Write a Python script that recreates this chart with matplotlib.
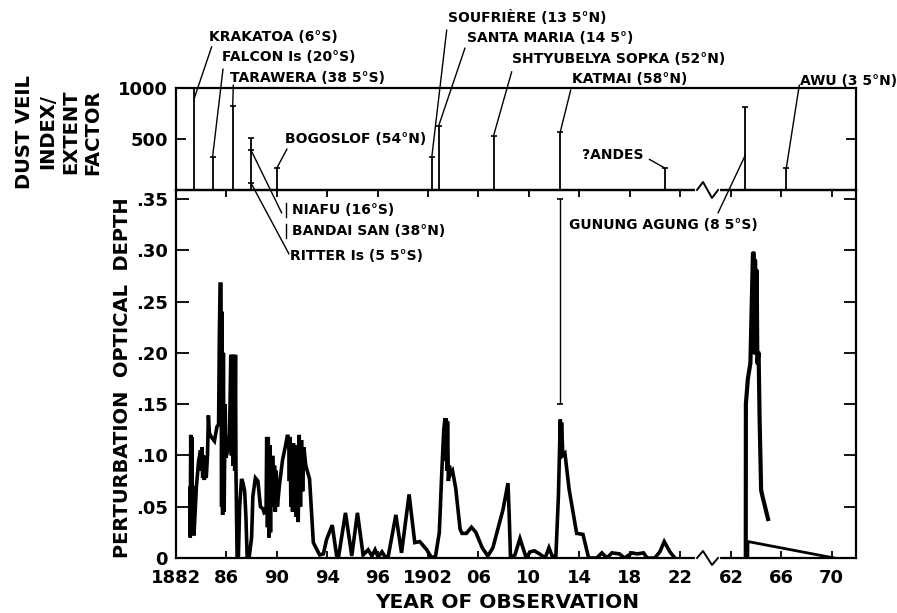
import numpy as np
import matplotlib
matplotlib.use("Agg")
import matplotlib.pyplot as plt
from matplotlib.lines import Line2D

# ---- data ----
# upper panel: dust veil index / extent factor of each eruption
volc_names = ["KRAKATOA (6°S)", "FALCON Is (20°S)", "TARAWERA (38 5°S)",
              "NIAFU / BANDAI SAN / RITTER", "BOGOSLOF (54°N)",
              "SOUFRIÈRE (13 5°N)", "SANTA MARIA (14 5°)",
              "SHTYUBELYA SOPKA (52°N)", "KATMAI (58°N)", "?ANDES",
              "GUNUNG AGUNG (8 5°S)", "AWU (3 5°N)"]
volc_year = [1883.45, 1884.9, 1886.5, 1887.95, 1890.0, 1902.3, 1902.85,
             1907.2, 1912.5, 1920.8, 1963.15, 1966.4]
volc_dvi = [1000, 320, 820, 510, 215, 320, 630, 530, 570, 215, 810, 215]
# extra marks on the shared Niafu/Bandai/Ritter stem
multi_year = [1887.95, 1887.95]
multi_dvi = [392, 69]

# lower panel: perturbation optical depth, 1883-1921
tau_year = [
    1883.10, 1883.13, 1883.17, 1883.21, 1883.25, 1883.30, 1883.36, 1883.42,
    1883.50, 1883.62, 1883.80, 1883.95, 1884.00, 1884.05, 1884.12, 1884.18,
    1884.25, 1884.32, 1884.40, 1884.50, 1884.57, 1884.65, 1884.80, 1885.05,
    1885.25, 1885.38, 1885.44, 1885.50, 1885.57, 1885.62, 1885.66, 1885.70,
    1885.76, 1885.82, 1885.90, 1885.97, 1886.10, 1886.25, 1886.35, 1886.40,
    1886.45, 1886.52, 1886.58, 1886.66, 1886.72, 1886.76, 1886.85, 1886.95,
    1887.05, 1887.20, 1887.30, 1887.45, 1887.55, 1887.65, 1887.80, 1888.00,
    1888.10, 1888.30, 1888.50, 1888.70, 1888.90, 1889.00, 1889.15, 1889.20,
    1889.26, 1889.32, 1889.38, 1889.44, 1889.50, 1889.56, 1889.70, 1889.75,
    1889.82, 1889.88, 1889.95, 1890.05, 1890.20, 1890.45, 1890.70, 1890.85,
    1890.95, 1891.00, 1891.05, 1891.12, 1891.18, 1891.25, 1891.32, 1891.40,
    1891.48, 1891.55, 1891.62, 1891.70, 1891.78, 1891.88, 1891.96, 1892.05,
    1892.15, 1892.30, 1892.60, 1892.90, 1893.40, 1893.70, 1893.95, 1894.40,
    1894.75, 1894.90, 1895.45, 1895.95, 1896.40, 1896.85, 1897.25, 1897.55,
    1897.80, 1898.05, 1898.35, 1898.60, 1898.85, 1899.45, 1899.90, 1900.50,
    1900.95, 1901.35, 1901.90, 1902.30, 1902.60, 1902.90, 1903.10, 1903.25,
    1903.35, 1903.40, 1903.45, 1903.50, 1903.55, 1903.62, 1903.70, 1903.80,
    1903.95, 1904.20, 1904.55, 1904.70, 1905.05, 1905.45, 1905.80, 1906.30,
    1906.75, 1907.15, 1907.95, 1908.35, 1908.45, 1908.55, 1908.90, 1909.30,
    1909.80, 1910.10, 1910.45, 1910.85, 1911.30, 1911.60, 1911.85, 1912.15,
    1912.35, 1912.50, 1912.55, 1912.60, 1912.70, 1912.87, 1913.20, 1913.80,
    1914.30, 1914.75, 1915.40, 1915.80, 1916.20, 1916.60, 1917.20, 1917.60,
    1918.20, 1918.60, 1919.10, 1919.40, 1920.00, 1920.40, 1920.75, 1921.20,
    1921.60]
tau_val = [
    0.068, 0.020, 0.120, 0.030, 0.118, 0.025, 0.070, 0.022,
    0.040, 0.070, 0.095, 0.105, 0.085, 0.108, 0.078, 0.100,
    0.076, 0.098, 0.078, 0.100, 0.139, 0.122, 0.118, 0.114,
    0.128, 0.130, 0.215, 0.267, 0.267, 0.050, 0.240, 0.042,
    0.200, 0.045, 0.150, 0.098, 0.105, 0.120, 0.198, 0.100,
    0.198, 0.090, 0.198, 0.085, 0.198, 0.085, 0.000, 0.000,
    0.050, 0.077, 0.074, 0.065, 0.040, 0.000, 0.000, 0.020,
    0.060, 0.078, 0.075, 0.050, 0.048, 0.044, 0.045, 0.118,
    0.030, 0.118, 0.020, 0.110, 0.025, 0.098, 0.098, 0.050,
    0.090, 0.045, 0.085, 0.050, 0.070, 0.095, 0.110, 0.120,
    0.115, 0.075, 0.118, 0.050, 0.112, 0.045, 0.112, 0.048,
    0.110, 0.040, 0.108, 0.035, 0.120, 0.050, 0.115, 0.065,
    0.108, 0.090, 0.077, 0.015, 0.003, 0.004, 0.018, 0.032,
    0.002, 0.001, 0.044, 0.002, 0.044, 0.003, 0.008, 0.002,
    0.008, 0.001, 0.006, 0.001, 0.002, 0.042, 0.005, 0.062,
    0.015, 0.016, 0.008, 0.000, 0.002, 0.025, 0.085, 0.125,
    0.136, 0.095, 0.136, 0.085, 0.133, 0.075, 0.090, 0.082,
    0.085, 0.068, 0.028, 0.024, 0.024, 0.030, 0.025, 0.010,
    0.002, 0.010, 0.047, 0.073, 0.040, 0.000, 0.003, 0.019,
    0.000, 0.006, 0.007, 0.004, 0.000, 0.010, 0.002, 0.002,
    0.060, 0.135, 0.105, 0.132, 0.100, 0.102, 0.067, 0.024,
    0.023, 0.000, 0.000, 0.005, 0.000, 0.005, 0.004, 0.000,
    0.005, 0.004, 0.005, 0.000, 0.000, 0.006, 0.016, 0.006,
    0.000]

# after Agung
agung_year = [1963.18, 1963.19, 1963.35, 1963.55, 1963.65, 1963.75, 1963.82,
              1963.87, 1963.92, 1963.97, 1964.05, 1964.10, 1964.20, 1964.28,
              1964.40, 1964.55, 1964.95]
agung_val = [0.000, 0.150, 0.175, 0.190, 0.245, 0.297, 0.297,
             0.200, 0.290, 0.230, 0.280, 0.190, 0.200, 0.135,
             0.066, 0.058, 0.038]
bg_year = [1963.35, 1963.36, 1970.20]
bg_val = [0.000, 0.016, 0.000]

# Katmai range bar in the lower panel
katmai_bar_year = 1912.5
katmai_bar_lo, katmai_bar_hi = 0.15, 0.35

xtick_year = [1882, 1886, 1890, 1894, 1898, 1902, 1906, 1910, 1914, 1918,
              1922, 1962, 1966, 1970]
xtick_lab = ["1882", "86", "90", "94", "96", "1902", "06", "10", "14", "18",
             "22", "62", "66", "70"]
ytick_tau = [0, .05, .10, .15, .20, .25, .30, .35]
ytick_tau_lab = ["0", ".05", ".10", ".15", ".20", ".25", ".30", ".35"]

# ---- broken time axis: 1924-1960 squeezed out ----
G0, G1, GW = 1924.0, 1960.0, 0.04


def fwd(x):
    x = np.asarray(x, dtype=float)
    return np.where(x <= G0, x,
                    np.where(x >= G1, x - (G1 - G0) + GW,
                             G0 + (x - G0) * GW / (G1 - G0)))


def inv(y):
    y = np.asarray(y, dtype=float)
    return np.where(y <= G0, y,
                    np.where(y >= G0 + GW, y + (G1 - G0) - GW,
                             G0 + (y - G0) * (G1 - G0) / GW))


W, H = 897, 613
fig = plt.figure(figsize=(W / 100, H / 100), dpi=100)
FS = 10
TFS = 13
plt.rcParams["font.weight"] = "bold"


def px(x, y):
    return (x / W, 1 - y / H)


L, R, T, M, B = 176, 856, 88, 190, 558
ax = fig.add_axes([L / W, 1 - B / H, (R - L) / W, (B - M) / H])
ax_top = fig.add_axes([L / W, 1 - M / H, (R - L) / W, (M - T) / H])
ax.set_zorder(1)
ax_top.set_zorder(2)
ax_top.patch.set_visible(False)

for a in (ax, ax_top):
    a.set_xscale("function", functions=(fwd, inv))
    a.set_xlim(1882, 1971.93)
    for s in a.spines.values():
        s.set_linewidth(1.6)

# upper panel
ax_top.set_ylim(0, 1000)
ax_top.vlines(volc_year, 0, volc_dvi, colors="black", lw=1.3)
ax_top.plot(volc_year, volc_dvi, "_", color="black", ms=5, mew=1.2)
ax_top.plot(multi_year, multi_dvi, "_", color="black", ms=5, mew=1.2)
ax_top.set_xticks([])
ax_top.set_yticks([0, 500, 1000])
ax_top.set_yticklabels(["", "500", "1000"], fontsize=TFS, fontweight="bold")
ax_top.tick_params(axis="y", direction="in", length=7, width=1.3,
                   right=True, pad=6)

# lower panel
ax.set_ylim(0, (B - M) / 1026)
ax.plot(tau_year, tau_val, color="black", lw=2.6, solid_joinstyle="miter")
ax.plot(agung_year, agung_val, color="black", lw=3.0)
ax.plot(bg_year, bg_val, color="black", lw=2.0)
ax.vlines(katmai_bar_year, katmai_bar_lo, katmai_bar_hi, colors="black", lw=1.0)
ax.plot([katmai_bar_year] * 2, [katmai_bar_lo, katmai_bar_hi], "_",
        color="black", ms=5, mew=1.2)
ax.set_xticks(xtick_year)
ax.set_xticklabels(xtick_lab, fontsize=TFS, fontweight="bold")
ax.set_yticks(ytick_tau)
ax.set_yticklabels(ytick_tau_lab, fontsize=TFS, fontweight="bold")
ax.tick_params(axis="x", direction="in", length=5, width=1.3, top=True, pad=8)
ax.tick_params(axis="y", direction="in", length=9, width=1.3, right=True, pad=6)
ax.xaxis.set_minor_locator(plt.NullLocator())

# axis titles
fig.text(*px(59, 132), "DUST VEIL\nINDEX/\nEXTENT\nFACTOR", rotation=90,
         ha="center", va="center", multialignment="center",
         fontsize=14, fontweight="bold", linespacing=1.25)
fig.text(*px(123, 378), "PERTURBATION  OPTICAL  DEPTH", rotation=90,
         ha="center", va="center", fontsize=14, fontweight="bold")
fig.text(*px(507, 603), "YEAR OF OBSERVATION", ha="center", va="center",
         fontsize=14.5, fontweight="bold")

# eruption labels with leader lines: (label, text x,y px, line start px, stem point)
labels = [
    ("KRAKATOA (6°S)", 209, 37, (211.7, 46.7), (volc_year[0], 900)),
    ("FALCON Is (20°S)", 222, 57, (223, 69), (volc_year[1], volc_dvi[1])),
    ("TARAWERA (38 5°S)", 230, 78, (233.3, 85), (volc_year[2], volc_dvi[2])),
    ("BOGOSLOF (54°N)", 285, 139, (287, 149), (volc_year[4], volc_dvi[4])),
    ("SOUFRIÈRE (13 5°N)", 448, 18, (446.7, 30), (volc_year[5], volc_dvi[5])),
    ("SANTA MARIA (14 5°)", 467, 38, (465, 48), (volc_year[6], volc_dvi[6])),
    ("SHTYUBELYA SOPKA (52°N)", 512, 59, (511.7, 71.7), (volc_year[7], volc_dvi[7])),
    ("KATMAI (58°N)", 572, 79, (570.7, 90), (volc_year[8], volc_dvi[8])),
    ("?ANDES", 582, 155, (649.3, 159.3), (volc_year[9], volc_dvi[9])),
    ("AWU (3 5°N)", 800, 81, (799.3, 85), (volc_year[11], volc_dvi[11])),
    ("NIAFU (16°S)", 292, 210, (281.7, 213), (multi_year[0], multi_dvi[0])),
    ("BANDAI SAN (38°N)", 292, 231, None, None),
    ("RITTER Is (5 5°S)", 290, 256, (289, 254), (multi_year[1], multi_dvi[1])),
    ("GUNUNG AGUNG (8 5°S)", 569, 225, (718, 213), (volc_year[10], 343)),
]
for text, tx, ty, start, stem in labels:
    fig.text(*px(tx, ty), text, ha="left", va="center", fontsize=FS,
             fontweight="bold")
    if start is not None:
        ax_top.annotate("", xy=stem, xycoords="data",
                        xytext=px(*start), textcoords="figure fraction",
                        arrowprops=dict(arrowstyle="-", lw=1.0, color="black",
                                        shrinkA=0, shrinkB=0),
                        annotation_clip=False)

# brace marks in front of NIAFU / BANDAI SAN
for yy in (203, 224):
    fig.add_artist(Line2D([286 / W, 286 / W], [1 - yy / H, 1 - (yy + 14) / H],
                          color="black", lw=1.0))

# axis break zigzags
for ybase, amp in ((M, 8), (B, 7)):
    xs = [697, 703, 712, 718]
    cover = Line2D([xs[0] / W, xs[-1] / W], [1 - ybase / H] * 2, color="white",
                   lw=3, zorder=10)
    fig.add_artist(cover)
    zz = Line2D([x / W for x in xs],
                [1 - ybase / H, 1 - (ybase - amp) / H, 1 - (ybase + amp) / H,
                 1 - ybase / H], color="black", lw=1.4, zorder=11)
    fig.add_artist(zz)

fig.savefig("out.png", dpi=100)
